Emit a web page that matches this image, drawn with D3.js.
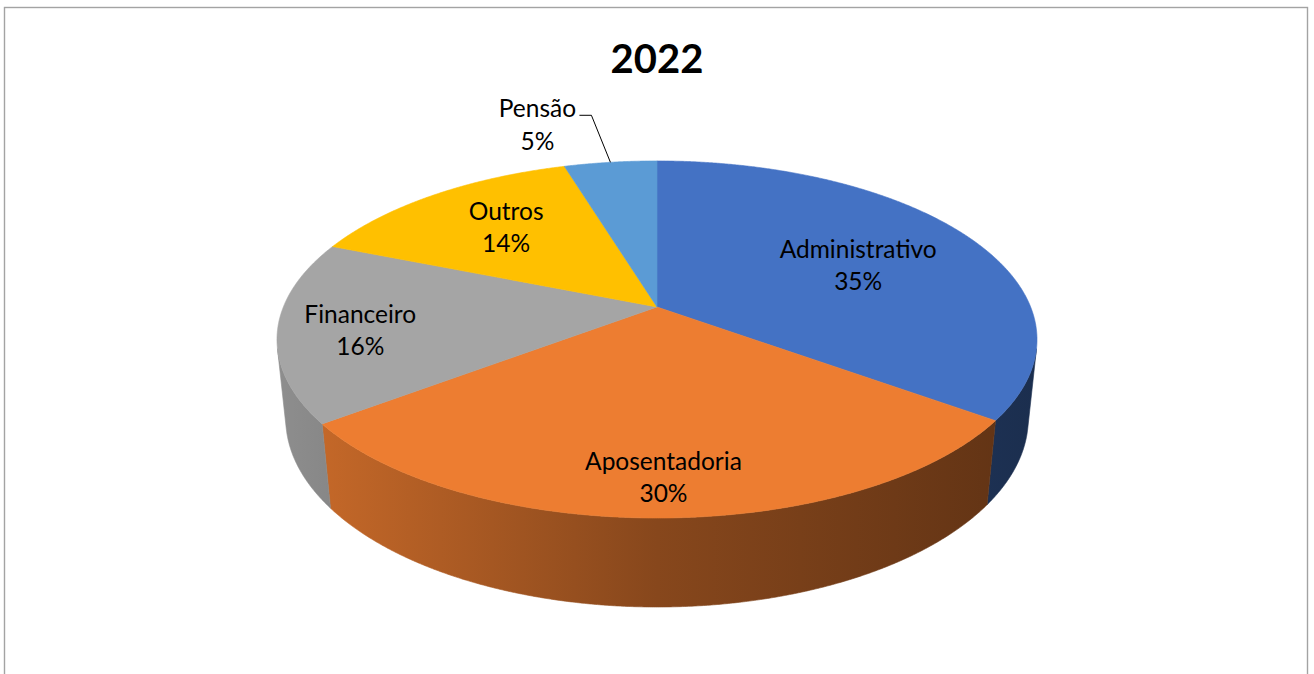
<!DOCTYPE html>
<html>
<head>
<meta charset="utf-8">
<script src="https://cdn.jsdelivr.net/npm/d3@7"></script>
<style>
  html, body { margin: 0; padding: 0; background: #fff; }
  svg { display: block; }
</style>
</head>
<body>
<svg id="chart" width="1314" height="674"></svg>
<script>
// ---- Data ----
const title = "2022";
const categories = ["Administrativo", "Aposentadoria", "Financeiro", "Outros", "Pensão"];
const values = [35.0, 29.7, 16.4, 14.2, 4.7];
const colors = ["#4472C4", "#ED7D31", "#A5A5A5", "#FFC000", "#5B9BD5"];

// ---- Layout / projection ----
const W = 1314, H = 674;
const cx = 657, cy = 307;     // projected pie centre
const f = 1821;               // focal length
const R = 0.2052;             // pie radius (camera distance = 1)
const elev = Math.asin(0.462);
const sE = Math.sin(elev), cE = Math.cos(elev);
const T = 0.0493;             // thickness
const fontFam = "Lato, 'Open Sans', sans-serif";

// label placement: radius fraction along mid angle plus small nudges
const labelLayout = [
  { r: 0.636, dx: 0, dy: 6 },
  { r: 0.84, dx: 3, dy: 0 },
  { r: 0.786, dx: 0, dy: 6 },
  { r: 0.65, dx: 0, dy: -3 },
  null
];

function proj(theta, r, z) {
  const X = r * R * Math.sin(theta), Y = -r * R * Math.cos(theta), Z = z;
  const v = Y * sE - Z * cE;
  const w = 1 - Y * cE - Z * sE;
  return [cx + f * X / w, cy + f * v / w];
}

const svg = d3.select("#chart");

// border
svg.append("rect")
  .attr("x", 4.5).attr("y", 7.5)
  .attr("width", 1303).attr("height", 720)
  .attr("fill", "#fff")
  .attr("stroke", "#a3a3a3").attr("stroke-width", 1.4);

// title
svg.append("text")
  .attr("x", 657).attr("y", 73)
  .attr("text-anchor", "middle")
  .attr("font-family", fontFam)
  .attr("font-weight", "bold")
  .attr("font-size", 40)
  .attr("fill", "#000")
  .text(title);

const pie = d3.pie().sort(null).startAngle(0).endAngle(2 * Math.PI);
const arcs = pie(values);

const defs = svg.append("defs");
const xLeft = 276, xRight = 1038;
const shadeStops = [[0, 0.86], [0.5, 0.57], [1, 0.40]];
arcs.forEach((a, i) => {
  const g = defs.append("linearGradient")
    .attr("id", "side" + i)
    .attr("gradientUnits", "userSpaceOnUse")
    .attr("x1", xLeft).attr("x2", xRight).attr("y1", 0).attr("y2", 0);
  const base = d3.rgb(colors[i]);
  shadeStops.forEach(([o, k]) => {
    g.append("stop").attr("offset", o)
      .attr("stop-color", d3.rgb(base.r * k, base.g * k, base.b * k).formatHex());
  });
});

const tv = Math.acos(-R / cE); // side visibility limit
const step = Math.PI / 720;

function arcPoints(a0, a1, r, z) {
  const pts = [];
  const n = Math.max(2, Math.ceil((a1 - a0) / step));
  for (let k = 0; k <= n; k++) pts.push(proj(a0 + (a1 - a0) * k / n, r, z));
  return pts;
}

const line = d3.line();

// sides
const gSide = svg.append("g");
arcs.forEach((a, i) => {
  const lo = Math.max(a.startAngle, tv), hi = Math.min(a.endAngle, 2 * Math.PI - tv);
  if (lo >= hi) return;
  const top = arcPoints(lo, hi, 1, 0);
  const bot = arcPoints(lo, hi, 1, -T).reverse();
  gSide.append("path")
    .attr("d", line(top.concat(bot)) + "Z")
    .attr("fill", `url(#side${i})`)
    .attr("stroke", `url(#side${i})`)
    .attr("stroke-width", 0.6);
});

// tops
const gTop = svg.append("g");
arcs.forEach((a, i) => {
  const pts = [proj(0, 0, 0)].concat(arcPoints(a.startAngle, a.endAngle, 1, 0));
  gTop.append("path")
    .attr("d", line(pts) + "Z")
    .attr("fill", colors[i])
    .attr("stroke", colors[i])
    .attr("stroke-width", 0.6)
    .attr("stroke-linejoin", "round");
});

// labels
const total = d3.sum(values);
const fmt = v => Math.round(v / total * 100) + "%";
const gLab = svg.append("g")
  .attr("font-family", fontFam)
  .attr("font-size", 24.5)
  .attr("fill", "#000")
  .attr("text-anchor", "middle");

arcs.forEach((a, i) => {
  const mid = (a.startAngle + a.endAngle) / 2;
  const L = labelLayout[i];
  if (L) {
    const p = proj(mid, L.r, 0);
    const x = p[0] + L.dx, yc = p[1] + L.dy;
    gLab.append("text").attr("x", x).attr("y", yc - 8).text(categories[i]);
    gLab.append("text").attr("x", x).attr("y", yc + 24).text(fmt(values[i]));
  } else {
    // outside label with leader line
    const e = proj(mid, 1, 0);
    const lx = e[0] - 73, ly = e[1] - 45;
    gLab.append("text").attr("x", lx).attr("y", ly).text(categories[i]);
    gLab.append("text").attr("x", lx).attr("y", ly + 33).text(fmt(values[i]));
    svg.append("path")
      .attr("d", line([[e[0] - 31, e[1] - 47], [e[0] - 19, e[1] - 47], [e[0], e[1]]]))
      .attr("fill", "none")
      .attr("stroke", "#000")
      .attr("stroke-width", 1);
  }
});
</script>
</body>
</html>
